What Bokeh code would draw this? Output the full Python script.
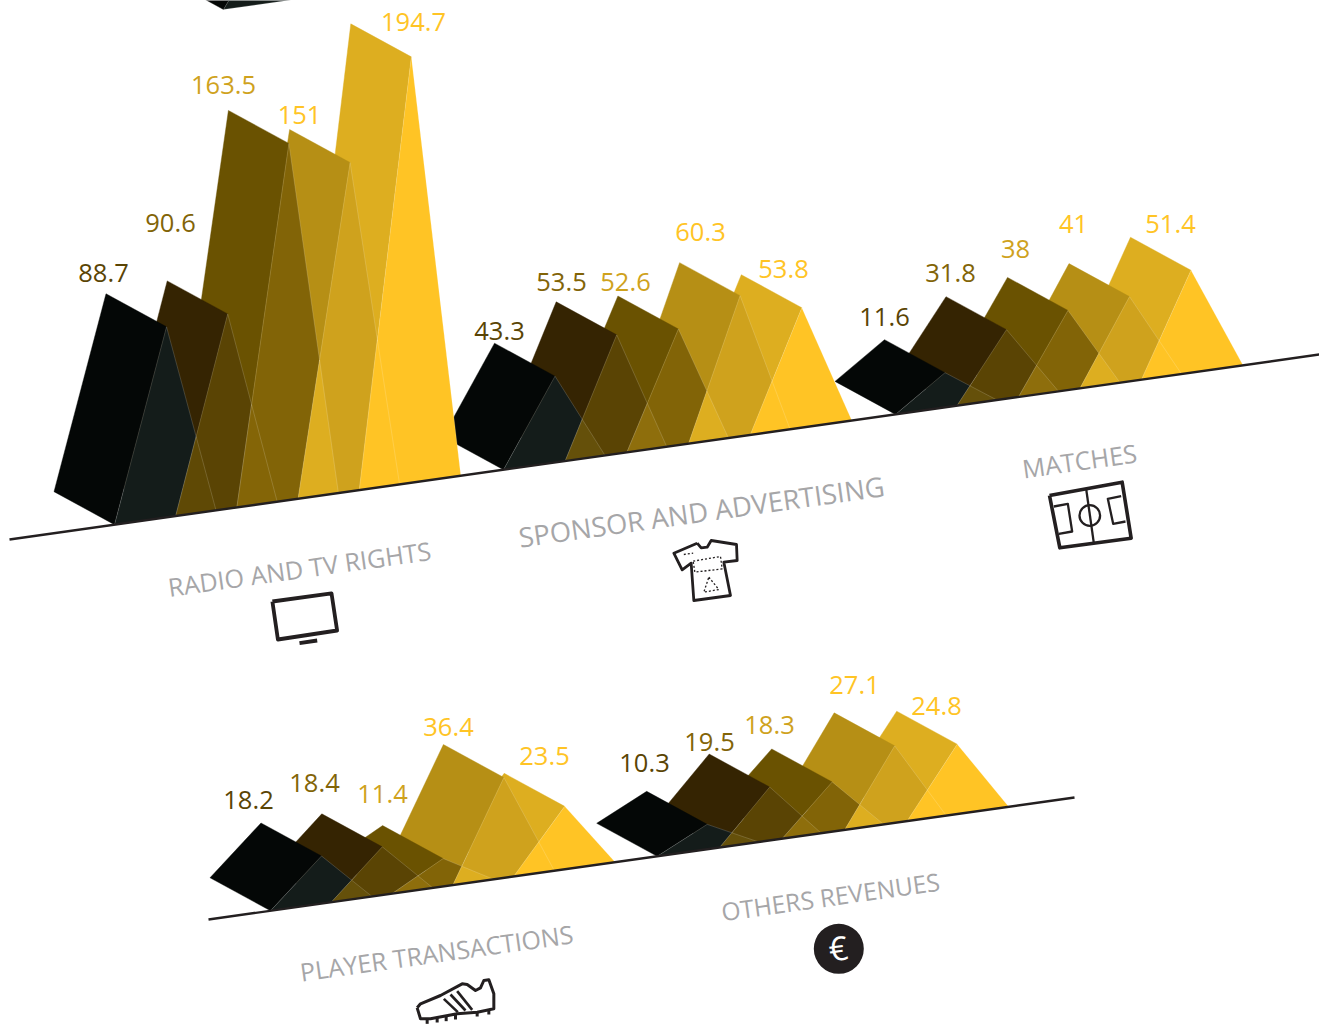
import numpy as np
from bokeh.embed import file_html
from bokeh.resources import INLINE
from bokeh.plotting import figure
from bokeh.models import ColumnDataSource, Range1d
from bokeh.core.properties import value

# ---- data -------------------------------------------------------------
categories = ["RADIO AND TV RIGHTS", "SPONSOR AND ADVERTISING", "MATCHES",
              "PLAYER TRANSACTIONS", "OTHERS REVENUES"]
radio_tv = [88.7, 90.6, 163.5, 151, 194.7]
sponsor = [43.3, 53.5, 52.6, 60.3, 53.8]
matches = [11.6, 31.8, 38, 41, 51.4]
transactions = [18.2, 18.4, 11.4, 36.4, 23.5]
others = [10.3, 19.5, 18.3, 27.1, 24.8]
upper_row = [40.0]

# ---- styling ----------------------------------------------------------
FRONT = ["#040706", "#352402", "#6a5201", "#b68f15", "#ddae20"]
SIDE = ["#141c1a", "#5a4404", "#826407", "#cfa21d", "#ffc425"]
OVERLAP = [None, "#65500a", "#8e6e0c", "#ddae20", "#ffc425"]
OVERLAP_SOFT = [None, "#5f4905", "#846507", "#ddae20", "#ffc425"]
LABEL = ["#5a4404", "#826407", "#cfa21d", "#ffc425", "#ffc425"]
INK = "#231f20"
GREY = "#a6a6a8"
FONT = value("Open Sans")

# ---- layout: baselines y = y0 + slope * (x - x0) ----------------------
ROW_TOP = (9, 539, -185 / 1310)
ROW_BOTTOM = (208, 919, -122 / 866)
ROW_UPPER = (223, 9, -0.1412)
BACK = np.array([-60.5, -33.0])
SIDE_WIDTH = 101.5


def on_base(row, x):
    x0, y0, slope = row
    return np.array([x, y0 + slope * (x - x0)])


def clip(poly, tri):
    """Sutherland-Hodgman clip of a polygon by a triangle."""
    out = [np.array(q) for q in poly]
    area = sum(tri[k][0] * tri[(k + 1) % 3][1] - tri[(k + 1) % 3][0] * tri[k][1] for k in range(3))
    sign = 1 if area > 0 else -1
    for k in range(3):
        a, b = tri[k], tri[(k + 1) % 3]
        side = lambda q: sign * ((b[0] - a[0]) * (q[1] - a[1]) - (b[1] - a[1]) * (q[0] - a[0]))
        kept = []
        for n, cur in enumerate(out):
            prev = out[n - 1]
            sc, sp = side(cur), side(prev)
            if (sc >= 0) != (sp >= 0):
                kept.append(prev + (cur - prev) * sp / (sp - sc))
            if sc >= 0:
                kept.append(cur)
        out = kept
        if not out:
            break
    return out


def group_polys(values, row, start, step, lean, rise, overlap):
    """Oblique prisms for one group: back faces plus triangular side faces."""
    intercept, per_unit = rise
    faces, sides = [], []
    bases = [on_base(row, start + i * step) for i in range(len(values))]
    for i, v in enumerate(values):
        b = bases[i]
        top = b + np.array([lean, -(intercept + per_unit * v)])
        faces.append(([b + BACK, b, top, top + BACK], FRONT[i]))
    tris = []
    for i, v in enumerate(values):
        b = bases[i]
        top = b + np.array([lean, -(intercept + per_unit * v)])
        tri = [b, top, on_base(row, b[0] + SIDE_WIDTH)]
        tris.append(tri)
        sides.append((tri, SIDE[i]))
        if i > 0:
            shared = clip(tris[i - 1], tri)
            if len(shared) >= 3:
                sides.append((shared, overlap[i]))
    return faces[::-1], sides


def draw_group(p, values, row, start, step, lean, rise, overlap=OVERLAP):
    faces, sides = group_polys(values, row, start, step, lean, rise, overlap)
    p.patches(xs=[[q[0] for q in f] for f, _ in faces], ys=[[q[1] for q in f] for f, _ in faces],
              fill_color=[c for _, c in faces], line_color=[c for _, c in faces], line_width=0.4)
    p.patches(xs=[[q[0] for q in f] for f, _ in sides], ys=[[q[1] for q in f] for f, _ in sides],
              fill_color=[c for _, c in sides], line_color="#ffffff", line_alpha=0.28, line_width=0.6)


p = figure(width=1319, height=1024, output_backend="svg", toolbar_location=None,
           x_range=Range1d(0, 1319), y_range=Range1d(1024, 0),
           min_border=0, outline_line_color=None, background_fill_color="white")
p.axis.visible = False
p.grid.visible = False

# Groups are painted right to left so each one sits over its neighbour.
draw_group(p, upper_row, ROW_UPPER, 223, 61, 52, (0, 2.2))
draw_group(p, matches, ROW_TOP, 895, 61.5, 49.5, (22, 1.7))
draw_group(p, sponsor, ROW_TOP, 503, 61.7, 51.5, (-45, 3.2))
draw_group(p, radio_tv, ROW_TOP, 114, 61.2, 52, (1, 2.22), OVERLAP_SOFT)
draw_group(p, others, ROW_BOTTOM, 656.7, 62.5, 50, (0, 3.1))
draw_group(p, transactions, ROW_BOTTOM, 270, 60.8, 51, (2, 2.9))

# Ground lines
for row, xa, xb in ((ROW_TOP, 9, 1319), (ROW_BOTTOM, 208, 1074)):
    a, b = on_base(row, xa), on_base(row, xb)
    p.line([a[0], b[0]], [a[1], b[1]], line_color=INK, line_width=2.4)

# Value labels
label_x = [103, 170, 223, 299, 413, 499, 561, 625, 700, 783, 884, 950, 1015, 1073, 1170,
           248, 314, 382, 448, 544, 644, 709, 769, 854, 936]
label_y = [272, 222, 84, 114, 21, 330, 281, 281, 231, 268, 316, 272, 248, 223, 223,
           799, 782, 793, 726, 755, 762, 741, 724, 684, 705]
all_values = radio_tv + sponsor + matches + transactions + others
label_text = [f"{v:g}" for v in all_values]
p.text(source=ColumnDataSource(dict(x=label_x, y=label_y, t=label_text, c=LABEL * 5)),
       x="x", y="y", text="t", text_color="c", text_font=FONT, text_font_size="25.5px",
       text_align="center", text_baseline="middle")

# Category titles follow the slope of the ground line
title_x = [299, 701, 1079, 436, 830]
title_y = [568, 511, 460, 952, 896]
title_size = ["25.2px", "27.3px", "25.4px", "25px", "24.6px"]
p.text(source=ColumnDataSource(dict(x=title_x, y=title_y, t=categories, s=title_size)),
       x="x", y="y", text="t", text_color=GREY, text_font=FONT, text_font_size="s",
       text_align="center", text_baseline="middle", angle=np.arctan(185 / 1310))


def path(points, **kw):
    xs, ys = zip(*points)
    p.line(list(xs), list(ys), line_color=kw.pop("color", INK), line_join="round", **kw)


def zoomed(ox, oy, pts):
    return [(ox + a / 3, oy + b / 3) for a, b in pts]


# Television
path([(271.9, 601), (331, 592.8), (336.6, 630), (277.4, 639), (271.9, 601)], line_width=3.8)
path([(299, 642.7), (316.7, 640), ], line_width=3.8)

# Shirt
shirt = [(170, 68), (182, 82), (200, 80), (212, 60), (288, 72), (290, 120), (250, 125),
         (270, 225), (160, 240), (152, 128), (125, 148), (100, 98), (170, 68)]
path(zoomed(640, 520, shirt), line_width=2.8)
path(zoomed(640, 520, [(158, 122), (240, 108), (245, 145), (163, 155), (158, 122)]), line_width=1.3, line_dash="2 2")
path(zoomed(640, 520, [(205, 170), (235, 207), (190, 215), (205, 170)]), line_width=1.3, line_dash="2 2")
path(zoomed(640, 520, [(130, 102), (158, 98)]), line_width=1.3, line_dash="2 2")

# Pitch
path(zoomed(1030, 470, [(57, 75), (275, 35), (302, 203), (88, 232), (57, 75)]), line_width=3.6)
path(zoomed(1030, 470, [(167, 55), (190, 218)]), line_width=2.3)
path(zoomed(1030, 470, [(70, 108), (112, 100), (125, 183), (85, 190)]), line_width=2.3)
path(zoomed(1030, 470, [(272, 77), (232, 85), (248, 160), (285, 153)]), line_width=2.3)
p.circle(x=[1089.3], y=[515], radius=10.3, fill_color=None, line_color=INK, line_width=2.3)

# Boot
boot = [(50, 112), (60, 100), (120, 75), (185, 40), (200, 42), (225, 60), (240, 52), (250, 30),
        (265, 28), (280, 70), (280, 115), (230, 125), (170, 130), (90, 145), (60, 145), (50, 112)]
path(zoomed(400, 970, boot), line_width=3)
for stripe in ([(130, 85), (172, 125)], [(150, 72), (195, 120)], [(170, 62), (215, 118)]):
    path(zoomed(400, 970, stripe), line_width=2.6)
for stud in ([(80, 146), (80, 160)], [(110, 142), (110, 156)], [(137, 138), (137, 152)],
             [(165, 133), (165, 147)], [(230, 125), (230, 138)], [(265, 119), (265, 132)]):
    path(zoomed(400, 970, stud), line_width=3)

# Euro badge
p.circle(x=[838.3], y=[948.3], radius=25, fill_color=INK, line_color=None)
p.text(x=[837.5], y=[947.5], text=["€"], text_color="white", text_font=FONT, text_font_size="33px",
       text_align="center", text_baseline="middle", angle=np.arctan(185 / 1310))

open("out.html", "w").write(file_html(p, INLINE))
